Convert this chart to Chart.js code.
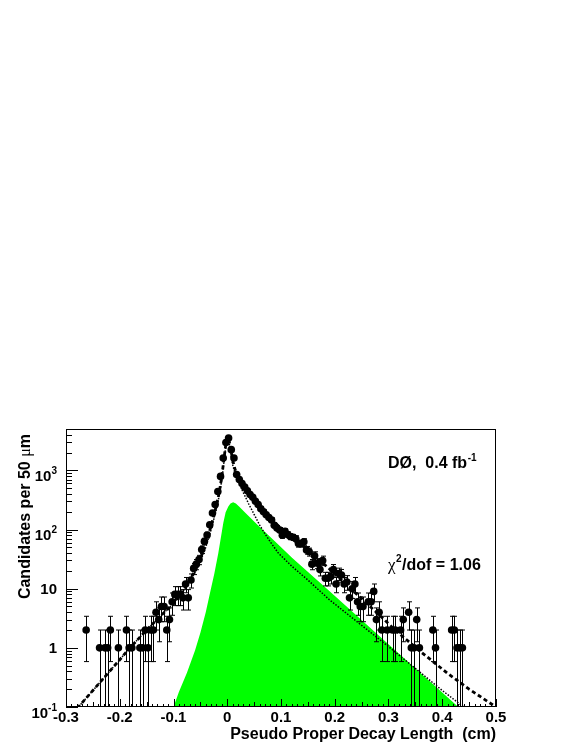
<!DOCTYPE html>
<html lang="en">
<head>
    <meta charset="UTF-8">
    <title>Pseudo Proper Decay Length</title>
    <script src="https://cdn.jsdelivr.net/npm/chart.js"></script>
    <style>
        body {
            margin: 0;
            padding: 0;
            background-color: white;
        }
        canvas {
            display: block;
        }
    </style>
</head>
<body>
    <canvas id="decayChart" width="581" height="752"></canvas>

    <script>
        // data points: bin centres (cm) and candidates per bin
        const binX = [
            -0.2625, -0.2375, -0.2275, -0.2225, -0.2175, -0.2025, -0.1875, -0.1825, -0.1775,
            -0.1625, -0.1575, -0.1525, -0.1475, -0.1425, -0.1375, -0.1325, -0.1275, -0.1225,
            -0.1175, -0.1125, -0.1075, -0.1025, -0.0975, -0.0925, -0.0875, -0.0825, -0.0775,
            -0.0725, -0.0675, -0.0625, -0.0575, -0.0525, -0.0475, -0.0425, -0.0375, -0.0325,
            -0.0275, -0.0225, -0.0175, -0.0125, -0.0075, -0.0025,
            0.0025, 0.0075, 0.0125, 0.0175, 0.0225, 0.0275, 0.0325, 0.0375, 0.0425, 0.0475,
            0.0525, 0.0575, 0.0625, 0.0675, 0.0725, 0.0775, 0.0825, 0.0875, 0.0925, 0.0975,
            0.1025, 0.1075, 0.1125, 0.1175, 0.1225, 0.1275, 0.1325, 0.1375, 0.1425, 0.1475,
            0.1525, 0.1575, 0.1625, 0.1675, 0.1725, 0.1775, 0.1825, 0.1875, 0.1925, 0.1975,
            0.2025, 0.2075, 0.2125, 0.2175, 0.2225, 0.2275, 0.2325, 0.2375, 0.2425, 0.2475,
            0.2525, 0.2625, 0.2675, 0.2725, 0.2775, 0.2825, 0.2875, 0.2975, 0.3075, 0.3125,
            0.3225, 0.3275, 0.3375, 0.3425, 0.3475, 0.3525, 0.3575, 0.3825, 0.3875, 0.4175,
            0.4225, 0.4275, 0.4325, 0.4375
        ];
        const binN = [
            2, 1, 1, 1, 2, 1, 2, 1, 1,
            1, 1, 2, 1, 2, 2, 4, 3, 5,
            5, 2, 3, 6, 8, 8, 8, 7, 12,
            7, 14, 22, 26, 31, 46, 63, 81, 120,
            190, 264, 440, 790, 1620, 2950,
            3530, 2240, 1620, 850, 700, 600, 520, 450, 390, 350,
            300, 265, 225, 200, 178, 160, 145, 118, 106, 98,
            80, 93, 82, 76, 74, 70, 58, 58, 62, 45,
            42, 26, 36, 27, 21, 30, 15, 15, 16, 21,
            12, 18, 17, 12, 13, 7, 10, 12, 6, 5,
            5, 6, 6, 9, 3, 4, 2, 2, 2, 2,
            2, 3, 4, 1, 1, 3, 1, 2, 1, 2,
            2, 1, 1, 1
        ];

        // total fit (dashed)
        const fitX = [-0.285, -0.277, -0.25, -0.2, -0.181, -0.15, -0.125, -0.1, -0.09, -0.08,
            -0.07, -0.06, -0.05, -0.04, -0.03, -0.02, -0.015, -0.01, -0.006, -0.003,
            0.0, 0.002, 0.004, 0.007, 0.01, 0.015, 0.02, 0.03, 0.04, 0.05,
            0.06, 0.07, 0.08, 0.1, 0.12, 0.14, 0.16, 0.18, 0.2, 0.22,
            0.25, 0.28, 0.315, 0.36, 0.41, 0.45, 0.5];
        const fitY = [0.075, 0.1, 0.19, 0.63, 1.0, 2.0, 3.4, 5.6, 7.5, 10,
            14, 20, 32, 58, 115, 260, 420, 800, 1600, 2600,
            3500, 3600, 3000, 2200, 1500, 1000, 780, 560, 420, 330,
            260, 200, 155, 105, 75, 54, 38, 26, 18, 12,
            6.8, 3.8, 1.9, 0.86, 0.37, 0.2, 0.1];

        // background component (dotted)
        const bkgX = [-0.285, -0.277, -0.25, -0.2, -0.181, -0.15, -0.125, -0.1, -0.09, -0.08,
            -0.07, -0.06, -0.05, -0.04, -0.03, -0.02, -0.015, -0.01, -0.006, -0.003,
            0.0, 0.002, 0.004, 0.007, 0.01, 0.015, 0.02, 0.03, 0.04, 0.05,
            0.06, 0.07, 0.08, 0.095, 0.12, 0.15, 0.19, 0.25, 0.3, 0.35,
            0.4, 0.44, 0.47];
        const bkgY = [0.075, 0.1, 0.19, 0.63, 1.0, 2.0, 3.4, 5.6, 7.4, 9.7,
            13.3, 18.5, 29, 50, 100, 225, 370, 700, 1450, 2400,
            3250, 3350, 2750, 1900, 1250, 850, 650, 420, 270, 180,
            120, 85, 62, 40, 24, 14, 6.5, 2.4, 1.05, 0.45,
            0.19, 0.1, 0.065];

        // signal component (green)
        const sigX = [-0.102, -0.1, -0.09, -0.075, -0.06, -0.05, -0.04, -0.032, -0.024, -0.0166,
            -0.012, -0.0073, -0.003, 0.002, 0.006, 0.011, 0.016, 0.022, 0.034, 0.059,
            0.089, 0.121, 0.191, 0.3, 0.43, 0.432];
        const sigY = [0.08, 0.1, 0.18, 0.38, 0.9, 1.8, 4.0, 8.5, 18, 40,
            72, 130, 195, 245, 275, 288, 275, 245, 190, 113,
            63, 33, 9, 1.15, 0.1, 0.08];

        // axes
        const xMin = -0.3, xMax = 0.5;
        const yMin = 0.1, yMax = 5000;
        const xTickValues = [-0.3, -0.2, -0.1, 0, 0.1, 0.2, 0.3, 0.4, 0.5];
        const xTickLabels = ['-0.3', '-0.2', '-0.1', '0', '0.1', '0.2', '0.3', '0.4', '0.5'];
        const yTickValues = [0.1, 1, 10, 100, 1000];
        const yTickBase = ['10', '1', '10', '10', '10'];
        const yTickExp = ['-1', '', '', '2', '3'];

        const FONT = '"Liberation Sans", Arial, Helvetica, sans-serif';
        const SYMBOL = '"Liberation Serif", "DejaVu Serif", serif';

        function toXY(xs, ys) {
            return xs.map((x, i) => ({ x: x, y: ys[i] }));
        }

        const rootStyle = {
            id: 'rootStyle',
            afterDatasetsDraw(chart) {
                // Poisson error bars
                const ctx = chart.ctx;
                const area = chart.chartArea;
                const sx = chart.scales.x, sy = chart.scales.y;
                ctx.save();
                ctx.beginPath();
                ctx.rect(area.left, area.top, area.right - area.left, area.bottom - area.top);
                ctx.clip();
                ctx.strokeStyle = '#000';
                ctx.lineWidth = 1;
                ctx.beginPath();
                binX.forEach((x, i) => {
                    const n = binN[i];
                    const e = Math.sqrt(n);
                    const px = Math.round(sx.getPixelForValue(x)) + 0.5;
                    const hi = sy.getPixelForValue(n + e);
                    const lo = (n - e) > yMin ? sy.getPixelForValue(n - e) : area.bottom + 2;
                    ctx.moveTo(px, hi);
                    ctx.lineTo(px, lo);
                    ctx.moveTo(px - 2.5, hi);
                    ctx.lineTo(px + 2.5, hi);
                    if ((n - e) > yMin) {
                        ctx.moveTo(px - 2.5, lo);
                        ctx.lineTo(px + 2.5, lo);
                    }
                });
                ctx.stroke();
                ctx.restore();
            },
            afterDraw(chart) {
                const ctx = chart.ctx;
                const area = chart.chartArea;
                const sx = chart.scales.x, sy = chart.scales.y;
                ctx.save();
                ctx.strokeStyle = '#000';
                ctx.fillStyle = '#000';
                ctx.lineWidth = 1;

                // frame
                ctx.strokeRect(area.left + 0.5, area.top + 0.5,
                    area.right - area.left - 1, area.bottom - area.top - 1);

                // y ticks (inside, from the left axis)
                ctx.beginPath();
                yTickValues.forEach(d => {
                    for (let m = 1; m <= 9; m++) {
                        const v = m * d;
                        if (v > yMax) break;
                        const py = Math.round(sy.getPixelForValue(v)) + 0.5;
                        const len = m === 1 ? 12 : 6;
                        ctx.moveTo(area.left, py);
                        ctx.lineTo(area.left + len, py);
                    }
                });
                // x ticks (inside, from the bottom axis)
                for (let k = -30; k <= 50; k++) {
                    const px = Math.round(sx.getPixelForValue(k / 100)) + 0.5;
                    const len = k % 10 === 0 ? 8 : (k % 5 === 0 ? 5 : 3);
                    ctx.moveTo(px, area.bottom);
                    ctx.lineTo(px, area.bottom - len);
                }
                ctx.stroke();

                // x labels
                ctx.font = 'bold 15px ' + FONT;
                ctx.textAlign = 'center';
                ctx.textBaseline = 'alphabetic';
                xTickValues.forEach((v, i) => {
                    ctx.fillText(xTickLabels[i], sx.getPixelForValue(v), 722);
                });

                // y labels
                ctx.textAlign = 'right';
                yTickValues.forEach((v, i) => {
                    const py = sy.getPixelForValue(v);
                    const right = 57;
                    if (yTickExp[i]) {
                        ctx.font = 'bold 10px ' + FONT;
                        const w = ctx.measureText(yTickExp[i]).width;
                        ctx.fillText(yTickExp[i], right, py + 3.5);
                        ctx.font = 'bold 15px ' + FONT;
                        ctx.fillText(yTickBase[i], right - w, py + 10.5);
                    } else {
                        ctx.font = 'bold 15px ' + FONT;
                        ctx.fillText(yTickBase[i], right, py + 5.5);
                    }
                });

                // x title
                ctx.font = 'bold 16px ' + FONT;
                ctx.textAlign = 'right';
                ctx.fillText('Pseudo Proper Decay Length  (cm)', area.right, 739);

                // y title, rotated
                ctx.save();
                ctx.translate(30, 434);
                ctx.rotate(-Math.PI / 2);
                ctx.textAlign = 'left';
                const t1 = 'Candidates per 50 ';
                ctx.font = 'bold 16px ' + FONT;
                const wm = ctx.measureText('m').width;
                const w1 = ctx.measureText(t1).width;
                ctx.font = '16px ' + SYMBOL;
                const wmu = ctx.measureText('\u03bc').width;
                const x0 = -(w1 + wmu + wm);
                ctx.font = 'bold 16px ' + FONT;
                ctx.fillText(t1, x0, 0);
                ctx.font = '16px ' + SYMBOL;
                ctx.fillText('\u03bc', x0 + w1, 0);
                ctx.font = 'bold 16px ' + FONT;
                ctx.fillText('m', x0 + w1 + wmu, 0);
                ctx.restore();

                // experiment label
                ctx.textAlign = 'left';
                ctx.font = 'bold 16px ' + FONT;
                const lab = 'D\u00d8,  0.4 fb';
                ctx.fillText(lab, 388, 468);
                const wl = ctx.measureText(lab).width;
                ctx.font = 'bold 10px ' + FONT;
                ctx.fillText('-1', 388 + wl + 0.5, 461);

                // chi2 label
                ctx.font = '17px ' + SYMBOL;
                ctx.fillText('\u03c7', 388, 570);
                const wc = ctx.measureText('\u03c7').width;
                ctx.font = 'bold 10px ' + FONT;
                ctx.fillText('2', 388 + wc + 0.5, 562);
                const w2 = ctx.measureText('2').width;
                ctx.font = 'bold 16px ' + FONT;
                ctx.fillText('/dof = 1.06', 388 + wc + w2 + 1, 570);

                ctx.restore();
            }
        };

        const ctx = document.getElementById('decayChart').getContext('2d');
        new Chart(ctx, {
            type: 'scatter',
            data: {
                datasets: [{
                    label: 'Data',
                    data: toXY(binX, binN),
                    pointRadius: 3.8,
                    pointBackgroundColor: '#000',
                    pointBorderWidth: 0,
                    showLine: false,
                    order: 0
                }, {
                    label: 'Fit',
                    data: toXY(fitX, fitY),
                    showLine: true,
                    pointRadius: 0,
                    borderColor: '#000',
                    borderWidth: 2.8,
                    borderDash: [4, 3],
                    tension: 0,
                    fill: false,
                    order: 1
                }, {
                    label: 'Background',
                    data: toXY(bkgX, bkgY),
                    showLine: true,
                    pointRadius: 0,
                    borderColor: '#000',
                    borderWidth: 1.5,
                    borderDash: [1.5, 1.5],
                    tension: 0,
                    fill: false,
                    order: 2
                }, {
                    label: 'Signal',
                    data: toXY(sigX, sigY),
                    showLine: true,
                    pointRadius: 0,
                    borderWidth: 0,
                    borderColor: 'rgba(0,0,0,0)',
                    backgroundColor: '#00ff00',
                    tension: 0,
                    fill: 'start',
                    order: 3
                }]
            },
            options: {
                responsive: false,
                devicePixelRatio: 1,
                animation: false,
                events: [],
                layout: {
                    padding: { left: 66, top: 429, right: 85, bottom: 45 }
                },
                scales: {
                    x: {
                        type: 'linear',
                        min: xMin,
                        max: xMax,
                        display: false
                    },
                    y: {
                        type: 'logarithmic',
                        min: yMin,
                        max: yMax,
                        display: false
                    }
                },
                plugins: {
                    legend: { display: false },
                    tooltip: { enabled: false }
                }
            },
            plugins: [rootStyle]
        });
    </script>
</body>
</html>
